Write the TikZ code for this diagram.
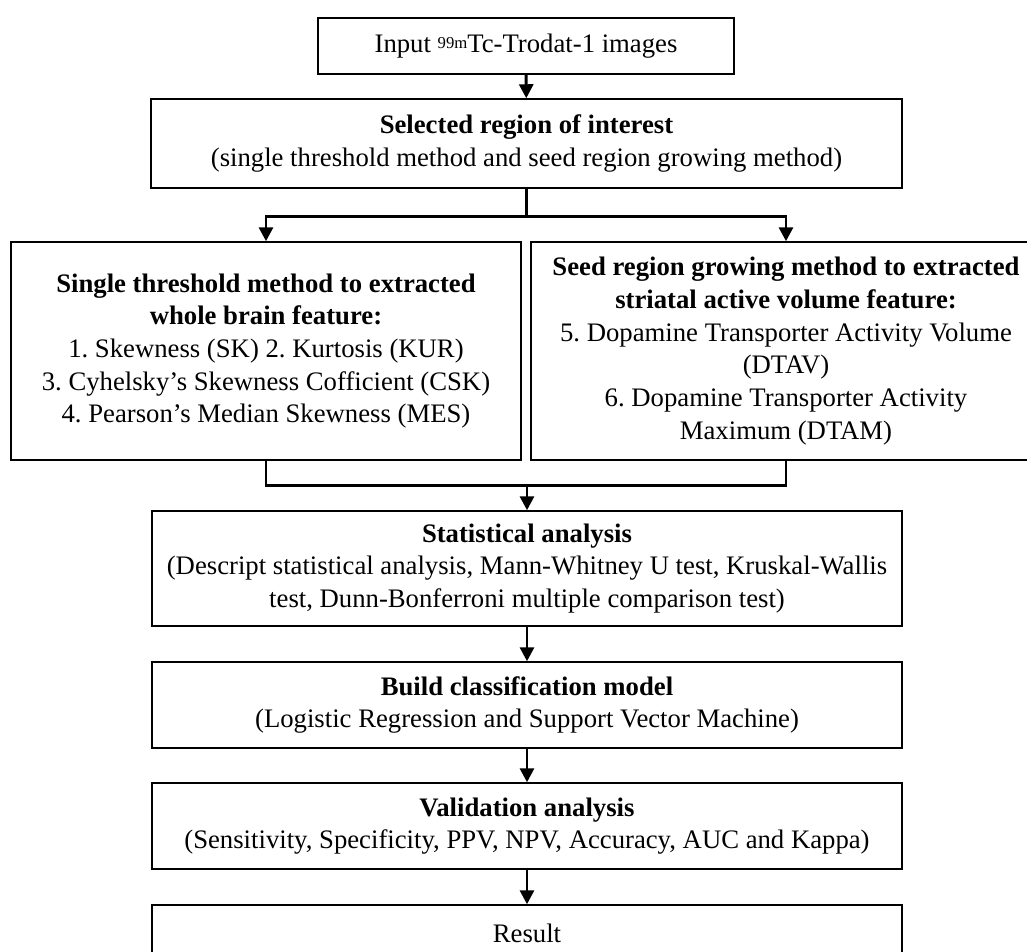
\documentclass[tikz,border=0pt]{standalone}
\usepackage{fontspec}
\setmainfont{Liberation Serif}
\usepackage{tikz}
\usetikzlibrary{calc}
\usetikzlibrary{arrows.meta}
\frenchspacing
\newcommand{\flowfont}{\fontsize{15.2}{18.6}\selectfont}
\newcommand{\isotope}[1]{{\fontsize{9.5}{9.5}\selectfont\raisebox{0.55ex}{#1}}}
\tikzset{
	% Box and connector styles for the flow chart
	stage box/.style={draw,line width=0.85pt,align=center,inner sep=2pt,font=\flowfont},
	flow line/.style={line width=1.7pt},
	flow arrow/.style={flow line,-{Triangle[width=0.28cm,length=0.28cm]}}
}

\begin{document}
\begin{tikzpicture}
			\useasboundingbox (0,0) rectangle (20.54,-19.04);
			
			\node(in)[stage box,minimum width=8.32cm,minimum height=1.12cm] at (10.52,-0.92){Input \isotope{99m}Tc-Trodat-1 images};
			\node(roi)[stage box,minimum width=15.02cm,minimum height=1.78cm] at (10.53,-2.87){\textbf{Selected region of interest}\\(single threshold method and seed region growing method)};
			\node(thr)[stage box,minimum width=10.2cm,minimum height=4.36cm] at (5.32,-7.02){\textbf{Single threshold method to extracted}\\\textbf{whole brain feature:}\\1. Skewness (SK) 2. Kurtosis (KUR)\\3. Cyhelsky’s Skewness Cofficient (CSK)\\4. Pearson’s Median Skewness (MES)};
			\node(seed)[stage box,minimum width=10.2cm,minimum height=4.36cm] at (15.72,-7.02){\textbf{Seed region growing method to extracted}\\\textbf{striatal active volume feature:}\\5. Dopamine Transporter Activity Volume\\(DTAV)\\6. Dopamine Transporter Activity\\Maximum (DTAM)};
			\node(stat)[stage box,minimum width=15cm,minimum height=2.3cm] at (10.54,-11.37){\textbf{Statistical analysis}\\(Descript statistical analysis, Mann-Whitney U test, Kruskal-Wallis\\test, Dunn-Bonferroni multiple comparison test)};
			\node(build)[stage box,minimum width=15cm,minimum height=1.72cm] at (10.54,-14.1){\textbf{Build classification model}\\(Logistic Regression and Support Vector Machine)};
			\node(valid)[stage box,minimum width=15cm,minimum height=1.72cm] at (10.54,-16.52){\textbf{Validation analysis}\\(Sensitivity, Specificity, PPV, NPV, Accuracy, AUC and Kappa)};
			\node(res)[stage box,minimum width=15cm,minimum height=1.12cm] at (10.54,-18.66){Result};
			
			% split and merge points
			\coordinate(split) at ($(roi.south)+(0,-.56)$);
			\coordinate(merge) at ($(stat.north)+(0,.5)$);
			
			\draw[flow arrow](in)--(roi);
			\draw[flow line](roi)--(split);
			\draw[flow arrow](split)-|(thr.north);
			\draw[flow arrow](split)-|(seed.north);
			\draw[flow line](thr.south)|-(merge)-|(seed.south);
			\draw[flow arrow](merge)--(stat);
			\draw[flow arrow](stat)--(build);
			\draw[flow arrow](build)--(valid);
			\draw[flow arrow](valid)--(res);
\end{tikzpicture}
\end{document}
